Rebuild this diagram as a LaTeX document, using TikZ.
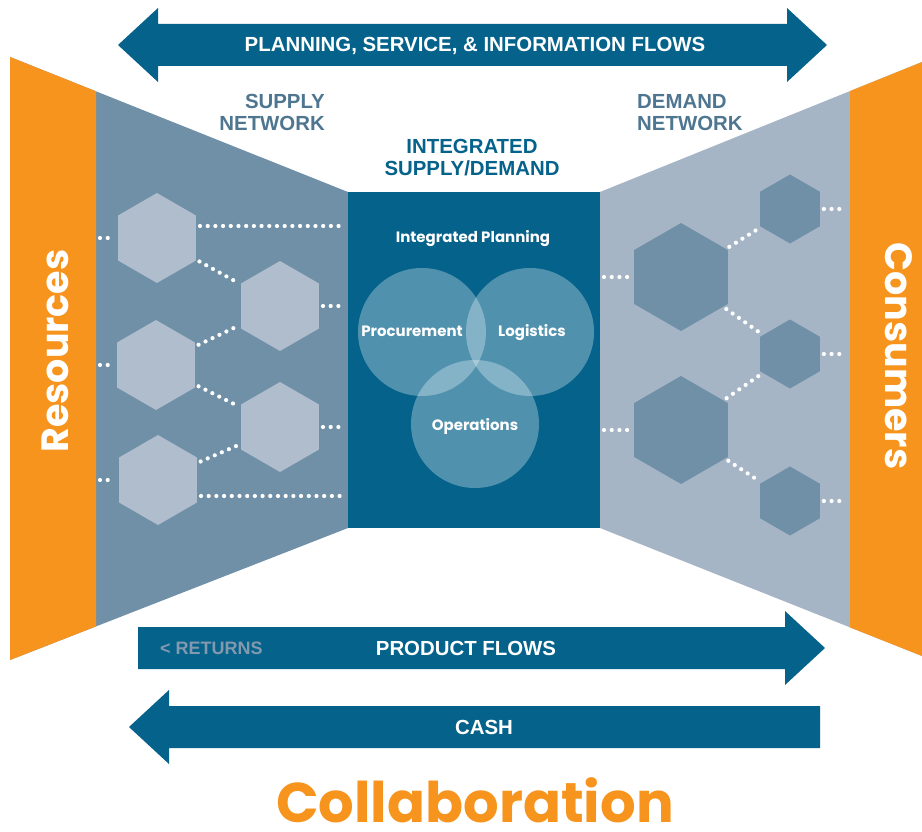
\documentclass[tikz,border=0pt]{standalone}
\usepackage{fontspec}
\setmainfont{Liberation Sans}
\newfontfamily\geofont{Poppins}
\usetikzlibrary{shapes.geometric,calc}

\definecolor{deepblue}{HTML}{05628B}
\definecolor{supplyblue}{HTML}{7090A8}
\definecolor{demandgrey}{HTML}{A6B5C6}
\definecolor{hexlight}{HTML}{AFBDCC}
\definecolor{flowtitle}{HTML}{4F7691}
\definecolor{returngrey}{HTML}{8399AE}
\definecolor{resorange}{HTML}{F7941D}

\begin{document}
\begin{tikzpicture}[x=1pt, y=-1pt,
    hexa/.style={regular polygon, regular polygon sides=6, shape border rotate=30,
                 inner sep=0pt, outer sep=0pt, minimum size=#1},
    lighthex/.style={hexa=#1, fill=hexlight},
    darkhex/.style={hexa=#1, fill=supplyblue},
    dots/.style={white, line width=4.2pt, line cap=round, dash pattern=on 0pt off 7.7pt,
                 shorten <=4pt, shorten >=4pt},
    capslabel/.style={font=\bfseries\fontsize{20.4}{22}\selectfont, inner sep=0pt},
    venn/.style={circle, minimum size=128pt, inner sep=0pt, fill=white, fill opacity=0.3},
    vennlabel/.style={font=\geofont\bfseries\fontsize{15}{18}\selectfont, text=white, inner sep=0pt},
    sidelabel/.style={font=\geofont\bfseries\fontsize{38}{46}\selectfont, text=white, inner sep=0pt}]

    \fill[white] (0,0) rectangle (922,832);
    \useasboundingbox (0,0) rectangle (922,832);

    % supply side, resources
    \fill[supplyblue] (10,57) -- (348,192) -- (348,528) -- (10,660) -- cycle;
    \fill[resorange] (10,57) -- (96,91.3) -- (96,626.4) -- (10,660) -- cycle;
    % demand side, consumers
    \fill[demandgrey] (600,192) -- (922,62) -- (922,656) -- (600,528) -- cycle;
    \fill[resorange] (850,91.1) -- (922,62) -- (922,656) -- (850,627.4) -- cycle;

    \node[fill=deepblue, minimum width=252pt, minimum height=336pt, inner sep=0pt, outer sep=0pt]
        (core) at (474,360) {};
    \coordinate (lrim) at (96,360);
    \coordinate (rrim) at (850,360);

    % supply network
    \node[lighthex=90pt] (s1) at (157,238) {};
    \node[lighthex=90pt] (s2) at (280,306) {};
    \node[lighthex=90pt] (s3) at (156,365) {};
    \node[lighthex=90pt] (s4) at (280,427) {};
    \node[lighthex=90pt] (s5) at (158,480) {};

    \draw[dots] (lrim |- s1) -- (s1.west);
    \draw[dots] (lrim |- s3) -- (s3.west);
    \draw[dots] (lrim |- s5) -- (s5.west);
    \draw[dots] ($(s1.east)+(0,-12)$) -- ($(s1.east -| core.west)+(0,-12)$);
    \draw[dots] (s2.east) -- (s2.east -| core.west);
    \draw[dots] (s4.east) -- (s4.east -| core.west);
    \draw[dots] ($(s5.east)+(0,16)$) -- ($(s5.east -| core.west)+(0,16)$);
    \draw[dots] (s1) -- (s2);
    \draw[dots] (s3) -- (s2);
    \draw[dots] (s3) -- (s4);
    \draw[dots] (s5) -- (s4);

    % demand network
    \node[darkhex=108pt] (d1) at (681,277) {};
    \node[darkhex=108pt] (d2) at (681,430) {};
    \node[darkhex=69pt] (d3) at (790,209) {};
    \node[darkhex=69pt] (d4) at (790,354) {};
    \node[darkhex=69pt] (d5) at (790,501) {};

    \draw[dots] (core.east |- d1) -- (d1.west);
    \draw[dots] (core.east |- d2) -- (d2.west);
    \draw[dots] (d1) -- (d3);
    \draw[dots] (d1) -- (d4);
    \draw[dots] (d2) -- (d4);
    \draw[dots] (d2) -- (d5);
    \draw[dots] (d3.east) -- (d3.east -| rrim);
    \draw[dots] (d4.east) -- (d4.east -| rrim);
    \draw[dots] (d5.east) -- (d5.east -| rrim);

    % integrated planning
    \node[venn] (proc) at (422,332) {};
    \node[venn] (logi) at (530,332) {};
    \node[venn] (oper) at (475,424) {};
    \node[vennlabel, anchor=base] (planning) at ($(core.north)+(-1,51)$) {Integrated Planning};
    \node[vennlabel, anchor=base] (proclabel) at ($(proc)+(-10,4)$) {Procurement};
    \node[vennlabel, anchor=base] (logilabel) at ($(logi)+(2,4)$) {Logistics};
    \node[vennlabel, anchor=base] (operlabel) at ($(oper)+(0,6)$) {Operations};

    \node[capslabel, text=flowtitle, anchor=north east, align=right] (supplynet) at (325,94) {SUPPLY\\NETWORK};
    \node[capslabel, text=flowtitle, anchor=north west, align=left] (demandnet) at (637,94) {DEMAND\\NETWORK};
    \node[capslabel, text=deepblue, anchor=north, align=center] (integrated) at (472,139) {INTEGRATED\\SUPPLY/DEMAND};

    \node[sidelabel, rotate=90] (resources) at (55,351) {Resources};
    \node[sidelabel, rotate=-90] (consumers) at (899,356) {Consumers};

    % flows
    \fill[deepblue] (118,45) -- (158,8) -- (158,24) -- (787,24) -- (787,8) -- (827,45)
        -- (787,82) -- (787,66) -- (158,66) -- (158,82) -- cycle;
    \node[capslabel, text=white, anchor=base] (infoflow) at (475,52) {PLANNING, SERVICE, \& INFORMATION FLOWS};

    \fill[deepblue] (138,627) -- (785,627) -- (785,611) -- (825,648) -- (785,685) -- (785,669)
        -- (138,669) -- cycle;
    \node[capslabel, text=white, anchor=base] (productflow) at (466,655) {PRODUCT FLOWS};
    \node[capslabel, text=returngrey, anchor=base west, font=\bfseries\fontsize{18}{20}\selectfont]
        (returns) at (160,654.5) {< RETURNS};

    \fill[deepblue] (129,727) -- (169,690) -- (169,706) -- (820,706) -- (820,748) -- (169,748)
        -- (169,764) -- cycle;
    \node[capslabel, text=white, anchor=base] (cash) at (484,734) {CASH};

    \node[font=\geofont\bfseries\fontsize{56}{64}\selectfont, text=resorange, anchor=base, inner sep=0pt]
        (collab) at (475,822) {Collaboration};

\end{tikzpicture}
\end{document}
